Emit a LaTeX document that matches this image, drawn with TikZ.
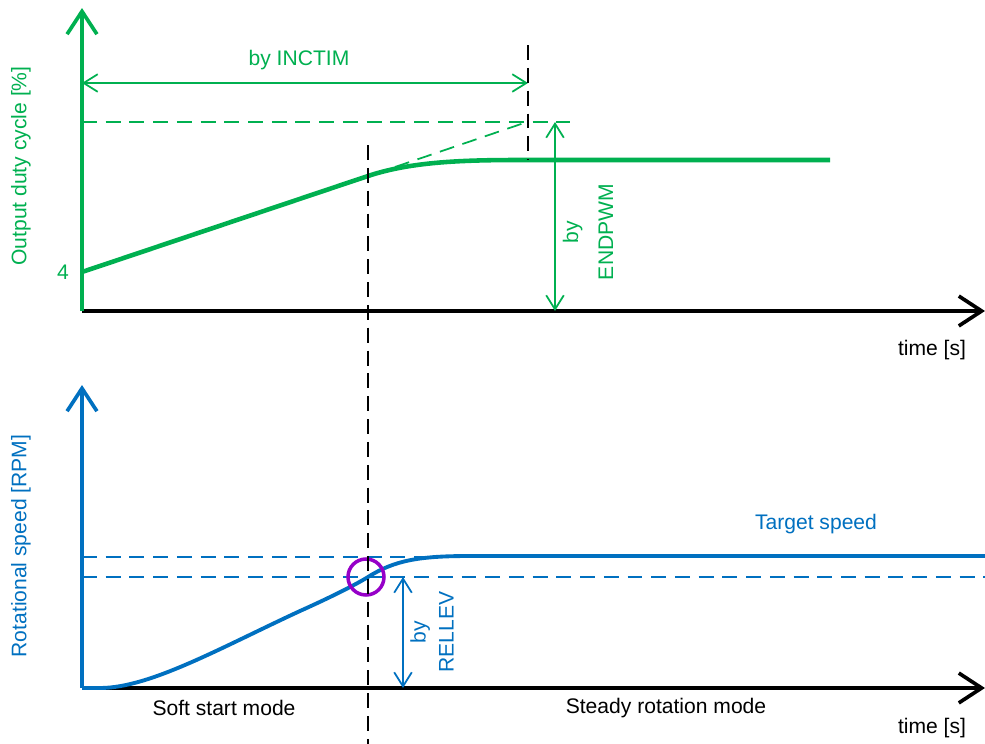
\documentclass[tikz,border=0pt]{standalone}
\usepackage{fontspec}
\setmainfont{Liberation Sans}
\usetikzlibrary{arrows.meta, positioning}
\definecolor{pwmgreen}{RGB}{0,176,80}
\definecolor{speedblue}{RGB}{0,112,192}
\definecolor{markpurple}{RGB}{150,0,200}
\tikzset{
  axisline/.style={line width=2.1pt, -{Straight Barb[length=13pt,width=17pt]}},
  dimarrow/.style={line width=1pt, {Straight Barb[length=8pt,width=10pt]}-{Straight Barb[length=8pt,width=10pt]}}
}
\tikzset{
  guideline/.style={line width=1pt, dash pattern=on 8.5pt off 5pt},
  splitline/.style={black, line width=1pt, dash pattern=on 8.5pt off 4.5pt}
}
\tikzset{
  labeltext/.style={font=\fontsize{12}{14}\selectfont}
}

\begin{document}
\begin{tikzpicture}[x=0.02cm, y=-0.02cm]
      \useasboundingbox (0,0) rectangle (985,744);
      % axes ends
      \coordinate (o1) at (82,311);
      \coordinate (y1) at (82,8);
      \coordinate (x1) at (985,311);
      \coordinate (o2) at (82,688);
      \coordinate (y2) at (82,385);
      \coordinate (x2) at (985,688);

      % upper chart: output duty cycle
      \draw[axisline] (o1) -- (x1);
      \draw[axisline, pwmgreen] (o1) -- (y1);
      \coordinate (d0) at (82,272);
      \coordinate (d1) at (368,176);
      \coordinate (d2) at (520,160);
      \coordinate (d3) at (830,160);
      \draw[pwmgreen, line width=2.6pt] (d0) -- (d1) .. controls (410,162) and (460,160) .. (d2) -- (d3);
      \coordinate (e0) at (395,167);
      \coordinate (e1) at (527,122);
      \coordinate (h0) at (82,122);
      \coordinate (h1) at (570,122);
      \draw[guideline, pwmgreen] (e0) -- (e1);
      \draw[guideline, pwmgreen] (h0) -- (h1);
      \coordinate (i0) at (82,83);
      \coordinate (i1) at (528,83);
      \draw[dimarrow, pwmgreen] (i0) -- (i1);
      \coordinate (p0) at (555,122);
      \coordinate (p1) at (555,311);
      \draw[dimarrow, pwmgreen] (p0) -- (p1);
      \coordinate (s0) at (528,45);
      \coordinate (s1) at (528,160);
      \draw[splitline] (s0) -- (s1);

      \node[labeltext, pwmgreen] (inctim) at (299,60) {by INCTIM};
      \node[labeltext, pwmgreen, rotate=90, align=center] (endpwm) at (588,232) {by\\[6pt]ENDPWM};
      \node[labeltext, pwmgreen, rotate=90] (dutylabel) at (21,166) {Output duty cycle [\%]};
      \node[labeltext, pwmgreen] (start) at (63,272) {4};
      \node[labeltext] (time1) at (932,350) {time [s]};

      % lower chart: rotational speed
      \draw[axisline] (o2) -- (x2);
      \draw[axisline, speedblue] (o2) -- (y2);
      \coordinate (t0) at (82,557);
      \coordinate (t1) at (985,557);
      \coordinate (r0) at (82,577);
      \coordinate (r1) at (985,577);
      \draw[guideline, speedblue] (t0) -- (t1);
      \draw[guideline, speedblue] (r0) -- (r1);
      \coordinate (c0) at (100,688);
      \coordinate (c1) at (300,611);
      \coordinate (c2) at (368,577);
      \coordinate (c3) at (470,556);
      \coordinate (c4) at (985,556);
      \draw[speedblue, line width=2.2pt] (o2) -- (c0) .. controls (150,688) and (220,648) .. (c1)
        .. controls (340,593) and (360,582) .. (c2) .. controls (395,560) and (420,556) .. (c3) -- (c4);
      \draw[markpurple, line width=2pt] (366,577) circle (18);
      \coordinate (l0) at (403,577);
      \coordinate (l1) at (403,688);
      \draw[dimarrow, speedblue] (l0) -- (l1);

      \node[labeltext, speedblue, rotate=90, align=center] (rellev) at (432,632) {by\\[2pt]RELLEV};
      \node[labeltext, speedblue, rotate=90] (speedlabel) at (21,546) {Rotational speed [RPM]};
      \node[labeltext, speedblue] (target) at (816,524) {Target speed};
      \node[labeltext] (softstart) at (224,708) {Soft start mode};
      \node[labeltext] (steady) at (666,708) {Steady rotation mode};
      \node[labeltext] (time2) at (932,728) {time [s]};

      % mode change
      \coordinate (m0) at (368,145);
      \coordinate (m1) at (368,744);
      \draw[splitline] (m0) -- (m1);
    \end{tikzpicture}
\end{document}
